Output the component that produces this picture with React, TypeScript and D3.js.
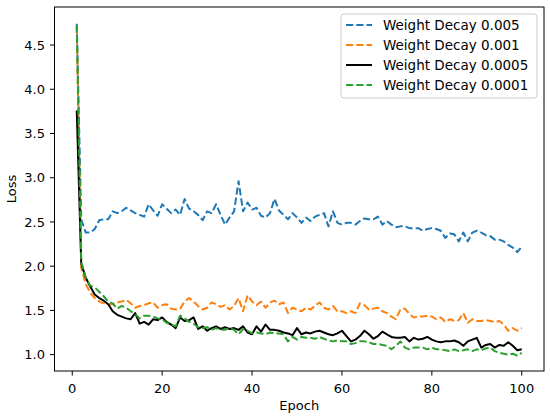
import * as d3 from "d3";

const epochs = d3.range(1, 101);

const wd005 = [
  4.74, 2.53, 2.38, 2.38, 2.42, 2.52, 2.53, 2.53, 2.62, 2.6,
  2.62, 2.66, 2.63, 2.6, 2.58, 2.56, 2.7, 2.63, 2.57, 2.7,
  2.65, 2.6, 2.64, 2.58, 2.76, 2.65, 2.62, 2.58, 2.52, 2.62,
  2.6, 2.7, 2.58, 2.47, 2.55, 2.62, 2.96, 2.62, 2.72, 2.64,
  2.66, 2.57, 2.55, 2.6, 2.76, 2.63, 2.58, 2.53, 2.6, 2.55,
  2.49, 2.55, 2.51, 2.56, 2.58, 2.6, 2.45, 2.62, 2.49, 2.47,
  2.49, 2.49, 2.47, 2.51, 2.54, 2.53, 2.53, 2.56, 2.47, 2.51,
  2.47, 2.44, 2.45, 2.45, 2.43, 2.43, 2.43, 2.4, 2.42, 2.43,
  2.42, 2.4, 2.32, 2.37, 2.36, 2.28, 2.38, 2.28, 2.38, 2.4,
  2.38, 2.35, 2.34, 2.3, 2.3, 2.28, 2.24, 2.21, 2.16, 2.22,
];

const wd001 = [
  4.7, 1.98, 1.8, 1.7, 1.64, 1.6, 1.58, 1.57, 1.57, 1.59,
  1.6, 1.62, 1.58, 1.53, 1.55, 1.56, 1.58, 1.59, 1.53, 1.56,
  1.57, 1.52, 1.51, 1.52, 1.6, 1.64, 1.6, 1.55, 1.51, 1.53,
  1.59, 1.57, 1.54, 1.56, 1.51, 1.55, 1.64, 1.49, 1.67, 1.6,
  1.56, 1.6, 1.53, 1.59, 1.61, 1.57, 1.59, 1.47, 1.53, 1.51,
  1.49, 1.53, 1.51, 1.55, 1.59, 1.53, 1.51, 1.55, 1.49, 1.49,
  1.47, 1.49, 1.47, 1.58, 1.56, 1.51, 1.52, 1.53, 1.49, 1.47,
  1.43, 1.4, 1.51, 1.52, 1.46, 1.42, 1.43, 1.43, 1.44, 1.43,
  1.4, 1.42, 1.37, 1.4, 1.38, 1.39, 1.47, 1.36, 1.4, 1.38,
  1.38, 1.39, 1.38, 1.37, 1.38, 1.34, 1.27, 1.3, 1.27, 1.3,
];

const wd0005 = [
  3.76, 2.03, 1.87, 1.77, 1.68, 1.64, 1.61, 1.57, 1.49, 1.45,
  1.43, 1.41, 1.4, 1.47, 1.35, 1.37, 1.34, 1.4, 1.39, 1.42,
  1.37, 1.34, 1.3, 1.42, 1.38, 1.39, 1.42, 1.29, 1.32, 1.27,
  1.3, 1.32, 1.29, 1.31, 1.29, 1.3, 1.28, 1.32, 1.25, 1.23,
  1.32, 1.26, 1.34, 1.28, 1.28, 1.27, 1.25, 1.24, 1.22, 1.3,
  1.23, 1.25, 1.24, 1.26, 1.27, 1.25, 1.23, 1.22, 1.24, 1.27,
  1.21, 1.15, 1.17, 1.21, 1.27, 1.23, 1.18, 1.21, 1.26, 1.23,
  1.2, 1.19, 1.19, 1.2, 1.15, 1.19, 1.17, 1.18, 1.2, 1.17,
  1.15, 1.14, 1.15, 1.15, 1.16, 1.14, 1.1, 1.15, 1.17, 1.19,
  1.08, 1.11, 1.12, 1.08, 1.11, 1.1, 1.14, 1.1, 1.05, 1.06,
];

const wd0001 = [
  4.72, 2.05, 1.87, 1.78, 1.76, 1.71, 1.66, 1.6, 1.58, 1.52,
  1.55, 1.53, 1.49, 1.46, 1.41, 1.44, 1.44, 1.43, 1.41, 1.4,
  1.36, 1.34, 1.32, 1.44, 1.41, 1.37, 1.35, 1.31, 1.3, 1.31,
  1.28, 1.3, 1.28, 1.28, 1.3, 1.28, 1.23, 1.29, 1.27, 1.24,
  1.25, 1.24, 1.23, 1.25, 1.24, 1.24, 1.23, 1.15, 1.2, 1.17,
  1.2, 1.19, 1.19, 1.18, 1.2, 1.18, 1.16, 1.15, 1.16, 1.15,
  1.15, 1.12, 1.13, 1.15, 1.15, 1.14, 1.12, 1.12, 1.11, 1.1,
  1.06, 1.1, 1.15, 1.08, 1.06, 1.08, 1.08, 1.08, 1.06, 1.08,
  1.06, 1.06, 1.05, 1.04, 1.06, 1.04, 1.05, 1.06, 1.04, 1.06,
  1.05, 1.07, 1.08, 1.04, 1.02, 1.01, 1.0, 1.01, 0.99, 1.02,
];

const xTicks = [0, 20, 40, 60, 80, 100];
const yTicks = [1.0, 1.5, 2.0, 2.5, 3.0, 3.5, 4.0, 4.5];

const series = [
  { label: "Weight Decay 0.005", values: wd005, color: "#1f77b4", dashed: true },
  { label: "Weight Decay 0.001", values: wd001, color: "#ff7f0e", dashed: true },
  { label: "Weight Decay 0.0005", values: wd0005, color: "#000000", dashed: false },
  { label: "Weight Decay 0.0001", values: wd0001, color: "#2ca02c", dashed: true },
];

const width = 550;
const height = 419;
const left = 54.5;
const right = 544;
const top = 7;
const bottom = 371;
const font = "'DejaVu Sans', sans-serif";
const fs = 13;
const tickLen = 4.6;

export default function App() {
  const x = d3.scaleLinear().domain([-3.95, 104.95]).range([left, right]);
  const y = d3.scaleLinear().domain([0.815, 4.93]).range([bottom, top]);

  const line = d3
    .line<number>()
    .x((_, i) => x(epochs[i]))
    .y((d) => y(d));

  const legX = 341;
  const legY = 14;
  const legW = 196;
  const legH = 84;

  return (
    <svg
      width={width}
      height={height}
      style={{ position: "absolute", left: 0, top: 0, background: "#fff" }}
      fontFamily={font}
    >
      <rect x={0} y={0} width={width} height={height} fill="#fff" />
      <defs>
        <clipPath id="plot">
          <rect x={left} y={top} width={right - left} height={bottom - top} />
        </clipPath>
      </defs>

      <g clipPath="url(#plot)">
        {series.map((s) => (
          <path
            key={s.label}
            d={line(s.values) || ""}
            fill="none"
            stroke={s.color}
            strokeWidth={2}
            strokeDasharray={s.dashed ? "7.2,3.1" : undefined}
            strokeLinejoin="round"
          />
        ))}
      </g>

      <rect
        x={left}
        y={top}
        width={right - left}
        height={bottom - top}
        fill="none"
        stroke="#000"
        strokeWidth={1}
      />

      {xTicks.map((t) => (
        <g key={t} transform={`translate(${x(t)},${bottom})`}>
          <line y2={tickLen} stroke="#000" strokeWidth={1} />
          <text y={22} textAnchor="middle" fontSize={fs} fill="#000">
            {t}
          </text>
        </g>
      ))}

      {yTicks.map((t) => (
        <g key={t} transform={`translate(${left},${y(t)})`}>
          <line x2={-tickLen} stroke="#000" strokeWidth={1} />
          <text x={-9.5} dy="0.36em" textAnchor="end" fontSize={fs} fill="#000">
            {d3.format(".1f")(t)}
          </text>
        </g>
      ))}

      <text
        x={(left + right) / 2}
        y={410}
        textAnchor="middle"
        fontSize={fs}
        fill="#000"
      >
        Epoch
      </text>
      <text
        transform={`translate(16,${(top + bottom) / 2}) rotate(-90)`}
        textAnchor="middle"
        fontSize={fs}
        fill="#000"
      >
        Loss
      </text>

      <g>
        <rect
          x={legX}
          y={legY}
          width={legW}
          height={legH}
          rx={3}
          fill="#fff"
          fillOpacity={0.8}
          stroke="#cccccc"
          strokeWidth={1}
        />
        {series.map((s, i) => {
          const ly = 25 + i * 20;
          return (
            <g key={s.label}>
              <line
                x1={346}
                x2={372}
                y1={ly}
                y2={ly}
                stroke={s.color}
                strokeWidth={2}
                strokeDasharray={s.dashed ? "7.2,3.1" : undefined}
              />
              <text x={383} y={ly + 4.7} fontSize={13.5} fill="#000">
                {s.label}
              </text>
            </g>
          );
        })}
      </g>
    </svg>
  );
}
